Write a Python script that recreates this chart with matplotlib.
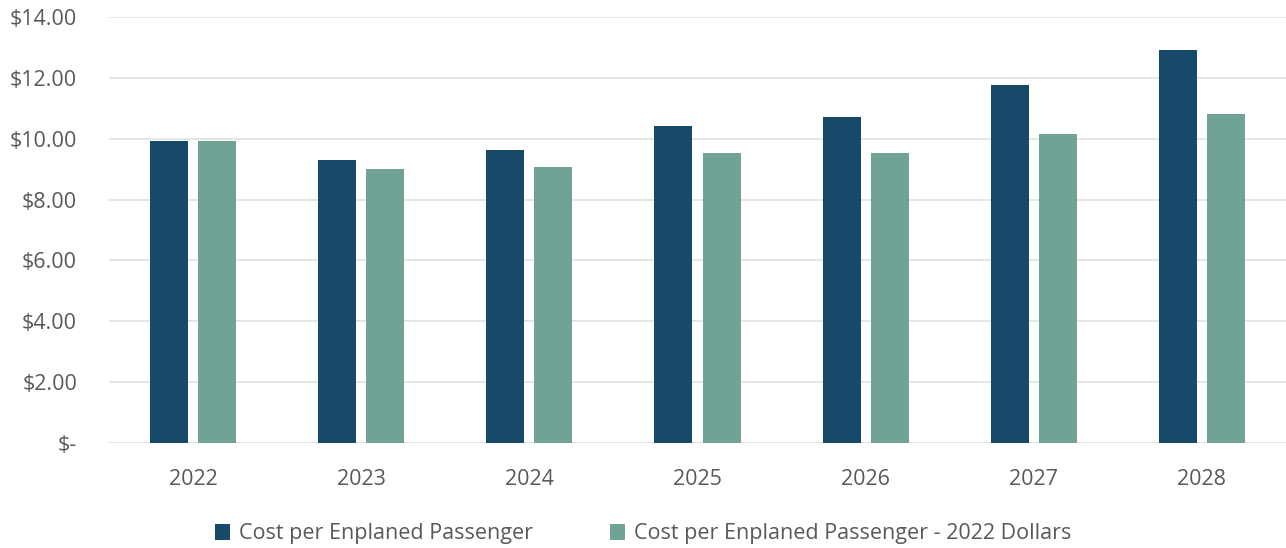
import numpy as np
import matplotlib.pyplot as plt
from matplotlib.ticker import FuncFormatter

years = ['2022', '2023', '2024', '2025', '2026', '2027', '2028']
cost_nominal = [9.92, 9.29, 9.63, 10.42, 10.71, 11.76, 12.90]
cost_2022 = [9.92, 9.00, 9.07, 9.53, 9.53, 10.15, 10.81]

dark = '#174A69'
light = '#70A296'
txt = '#595959'

plt.rcParams['font.family'] = ['Open Sans', 'DejaVu Sans']

fig = plt.figure(figsize=(12.86, 5.48), dpi=100)
ax = fig.add_axes([109/1286, 105/548, 1 - 109/1286, 426/548])

x = np.arange(len(years))
w = 0.226
ax.bar(x - 0.143, cost_nominal, w, color=dark, label='Cost per Enplaned Passenger', zorder=3)
ax.bar(x + 0.143, cost_2022, w, color=light, label='Cost per Enplaned Passenger - 2022 Dollars', zorder=3)

ax.set_xlim(-0.5, len(years) - 0.5)
ax.set_ylim(0, 14)
ax.set_yticks(np.arange(0, 15, 2))
ax.yaxis.set_major_formatter(FuncFormatter(lambda v, p: '$-' if v == 0 else f'${v:.2f}'))
ax.set_xticks(x)
ax.set_xticklabels(years)

ax.grid(axis='y', color='#E3E3E3', linewidth=1.3, zorder=0)
for s in ax.spines.values():
    s.set_visible(False)
ax.tick_params(axis='both', length=0, colors=txt, labelsize=15.5)
ax.tick_params(axis='y', pad=23)
ax.tick_params(axis='x', pad=19)

ax.legend(loc='center', bbox_to_anchor=(0.5, 1 - 534/548), bbox_transform=fig.transFigure,
          ncol=2, frameon=False, fontsize=15.5, labelcolor=txt, handlelength=0.7,
          handleheight=0.7, handletextpad=0.4, columnspacing=3.6)

fig.savefig('out.png', dpi=100)
